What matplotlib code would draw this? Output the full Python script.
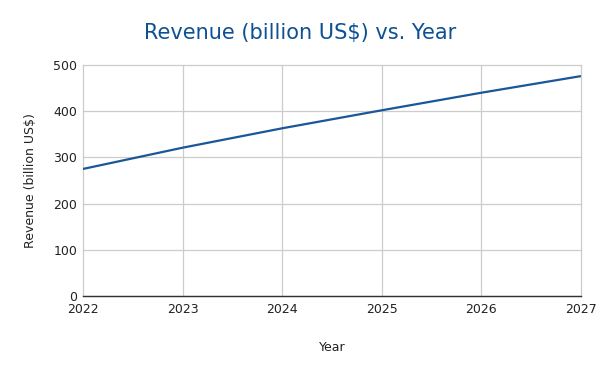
import matplotlib
matplotlib.use("Agg")
import matplotlib.pyplot as plt

years = [2022, 2023, 2024, 2025, 2026, 2027]
revenue = [275, 321, 363, 402, 440, 476]
y_ticks = [0, 100, 200, 300, 400, 500]

plt.rcParams['font.family'] = ['DejaVu Sans']

fig = plt.figure(figsize=(6, 3.71), dpi=100)
ax = fig.add_axes([83/600, 1 - 296/371, (581-83)/600, (296-65)/371])

ax.plot(years, revenue, color='#1a5798', linewidth=1.6, solid_capstyle='butt')
ax.set_xlim(2022, 2027)
ax.set_ylim(0, 500)
ax.set_xticks(years)
ax.set_xticklabels([str(y) for y in years])
ax.set_yticks(y_ticks)
ax.grid(True, color='#cccccc', linewidth=0.9)
ax.set_axisbelow(True)
for gl in ax.get_xgridlines() + ax.get_ygridlines():
    gl.set_clip_on(False)
for s in ['top', 'right', 'left']:
    ax.spines[s].set_visible(False)
ax.spines['bottom'].set_color('#333333')
ax.spines['bottom'].set_linewidth(1.0)
ax.spines['bottom'].set_zorder(3)
ax.tick_params(length=0, labelsize=9, colors='#222222', pad=4)
ax.tick_params(axis='x', pad=5)

ax.set_xlabel('Year', fontsize=9, color='#222222', labelpad=18)
ax.set_ylabel('Revenue (billion US$)', fontsize=9, color='#222222', labelpad=12)
fig.text(0.5, 1 - 33/371, 'Revenue (billion US$) vs. Year', ha='center', va='center',
         fontsize=15, color='#0e5193')

fig.savefig('out.png', dpi=100)
